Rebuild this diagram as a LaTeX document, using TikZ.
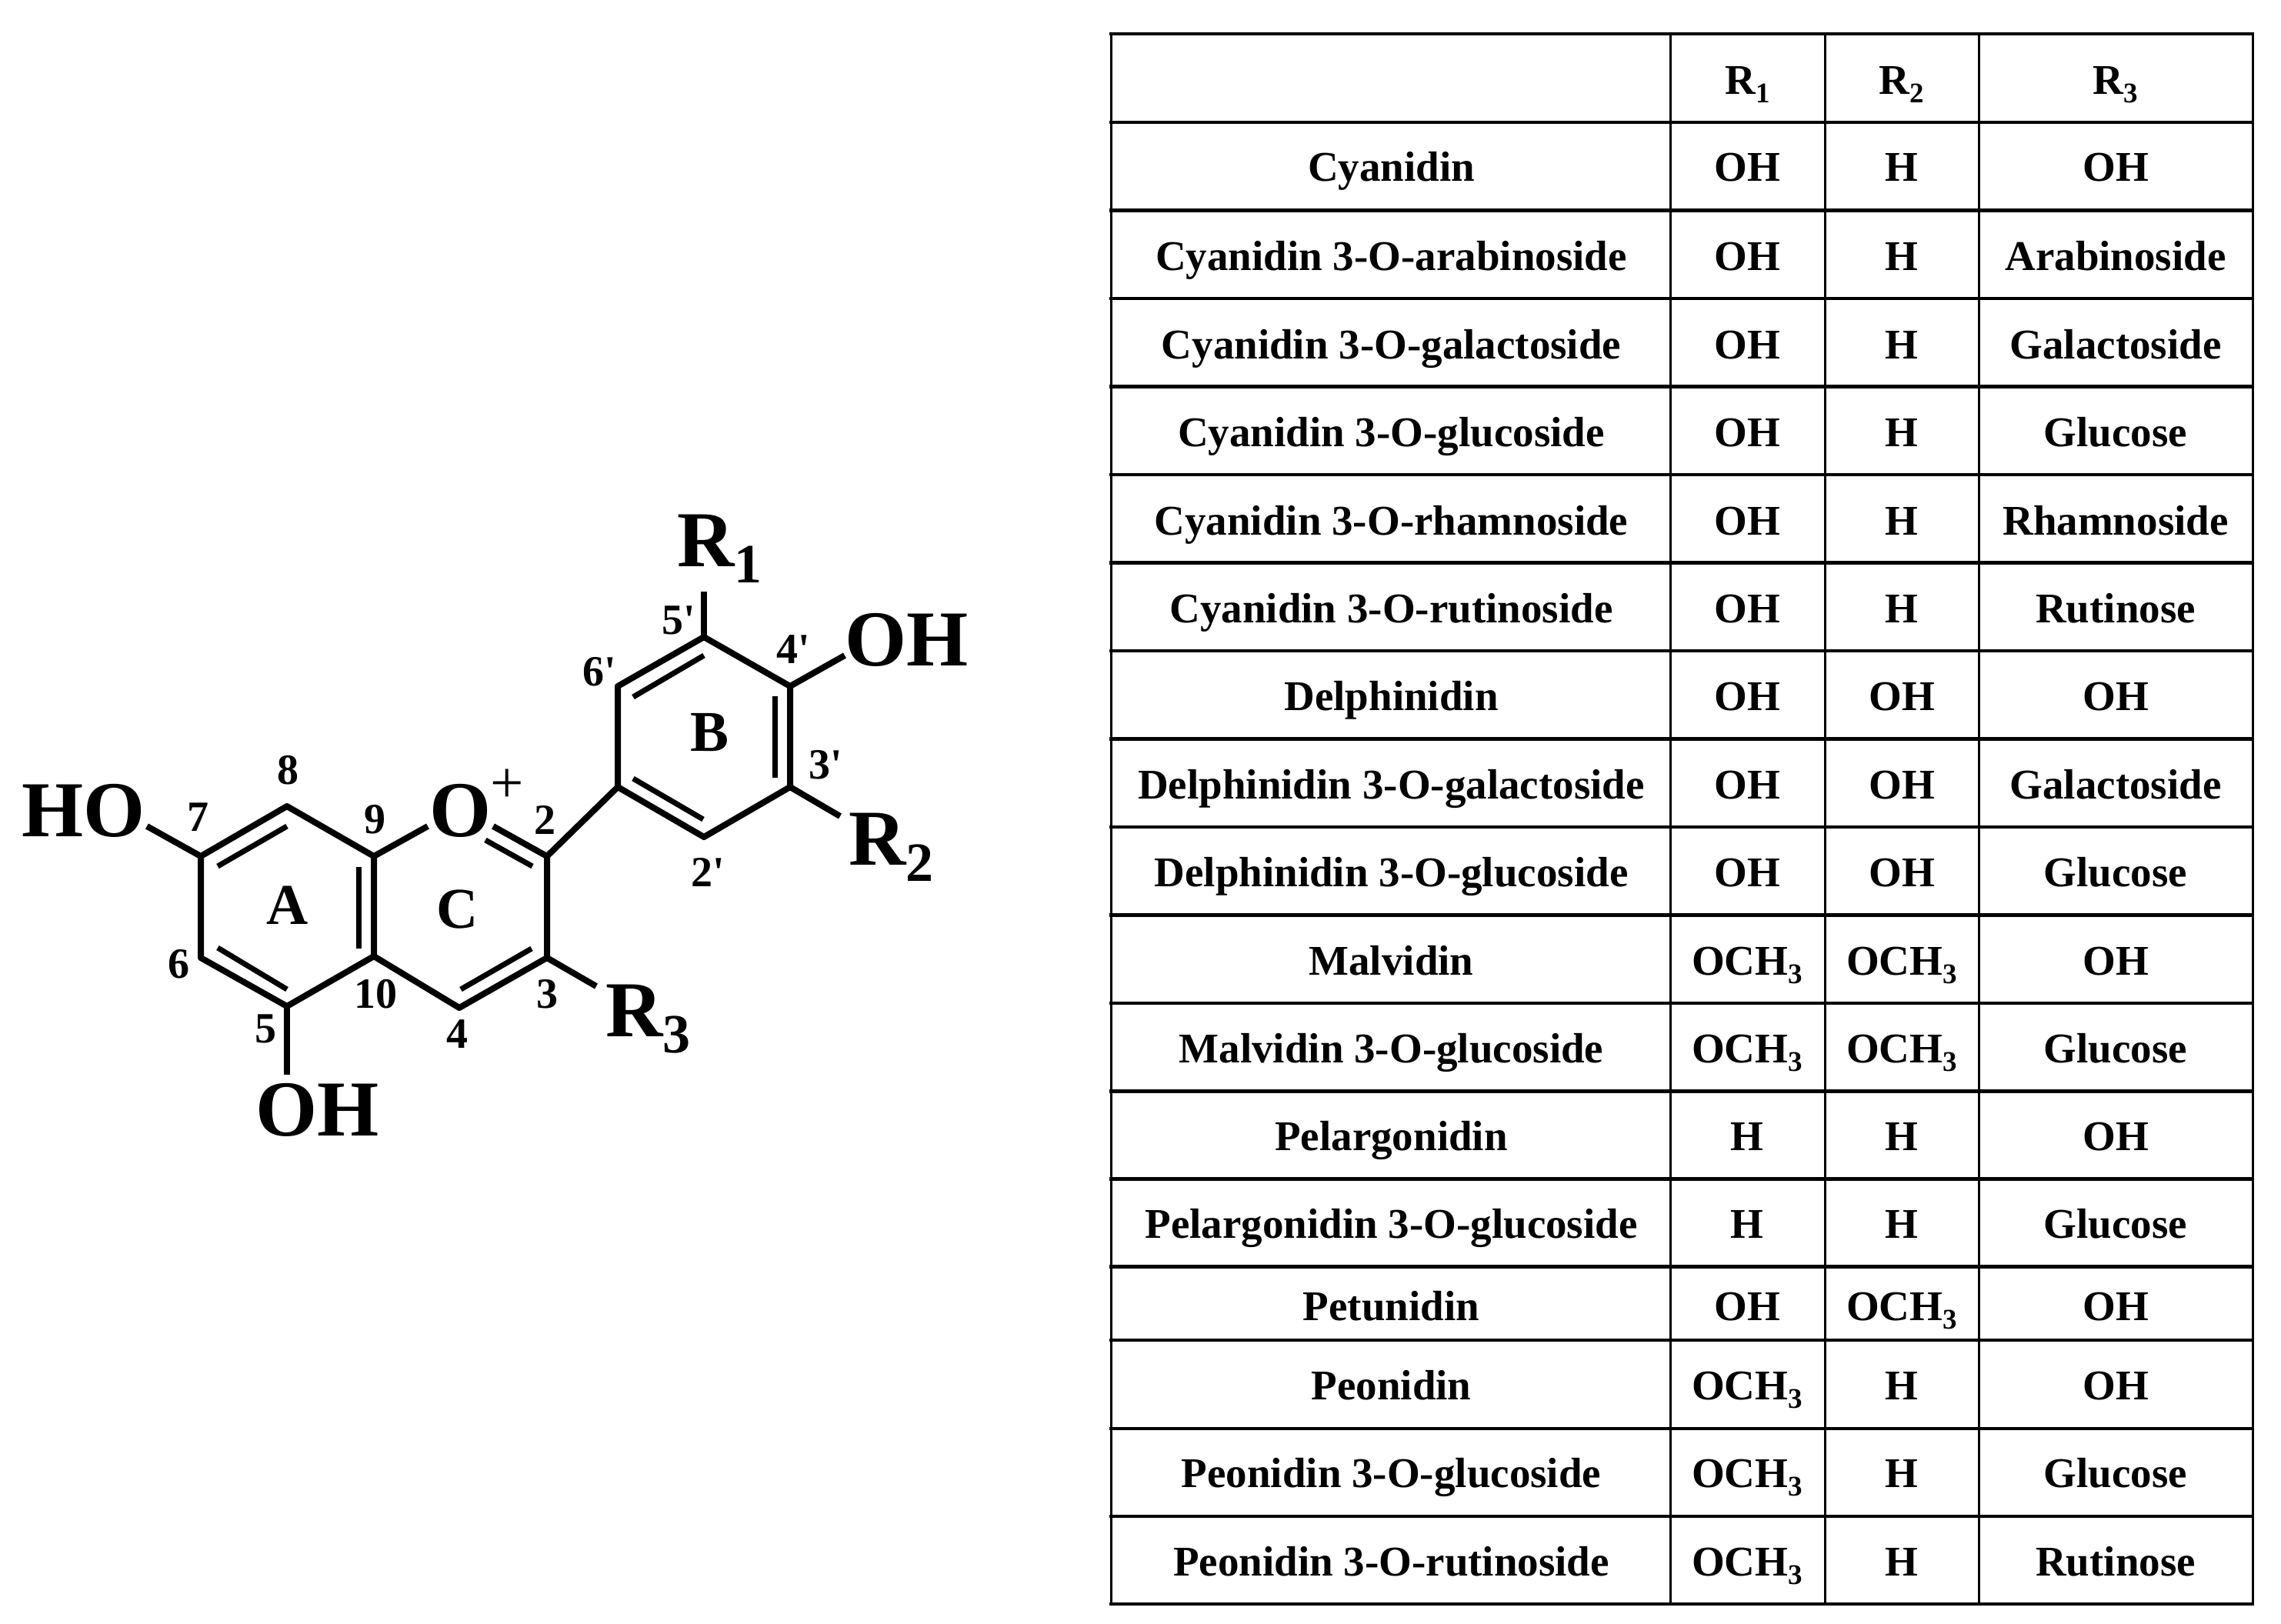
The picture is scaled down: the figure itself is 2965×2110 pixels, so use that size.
\documentclass[tikz,border=0pt]{standalone}
\usepackage{fontspec}
\setmainfont{Liberation Serif}
\newfontfamily\numf{Liberation Serif}
\newcommand{\sizeT}{\fontsize{55}{60}\selectfont\bfseries}
\newcommand{\sizeL}{\fontsize{103}{110}\selectfont\bfseries}
\newcommand{\sizeN}{\numf\fontsize{56}{60}\selectfont\bfseries}
\newcommand{\sizeR}{\fontsize{75}{80}\selectfont\bfseries}
\newcommand{\subT}[1]{\raisebox{-11pt}{\fontsize{37}{37}\selectfont\bfseries #1}}
\newcommand{\subL}[1]{\raisebox{-21pt}{\fontsize{72}{72}\selectfont\bfseries #1}}
\newcommand{\och}{OCH\subT{3}}
\tikzset{
 x=1pt,y=-1pt,
 bond/.style={line width=8pt,line join=round},
 big/.style={inner sep=0pt,font=\sizeL},
 num/.style={inner sep=0pt,font=\sizeN},
 ringl/.style={inner sep=0pt,font=\sizeR},
 cell/.style={inner sep=0pt,font=\sizeT},
 hrule/.style={line width=4.5pt},
 vrule/.style={line width=3pt},
}
\begin{document}
\begin{tikzpicture}
\useasboundingbox (0,0) rectangle (2965,2110);
\fill[white] (0,0) rectangle (2965,2110);
% atoms
\coordinate (c7) at (261,1113); \coordinate (c8) at (373,1048); \coordinate (c9) at (486,1113);
\coordinate (c10) at (486,1243); \coordinate (c5) at (373,1308); \coordinate (c6) at (261,1245);
\coordinate (c2) at (711,1113); \coordinate (c3) at (711,1245); \coordinate (c4) at (597,1310);
\coordinate (b1) at (803,1023); \coordinate (b2) at (915,1088); \coordinate (b3) at (1027,1023);
\coordinate (b4) at (1027,892); \coordinate (b5) at (915,828); \coordinate (b6) at (803,892);
\coordinate (er1) at (915,769); \coordinate (eoh) at (1098,852); \coordinate (er2) at (1092,1061);
\coordinate (er3) at (775,1282); \coordinate (e5oh) at (373,1397); \coordinate (eho) at (191,1074);
\coordinate (eo) at (556,1074); \coordinate (eo2) at (641,1074);
\coordinate (i1a) at (283,1126); \coordinate (i1b) at (373,1074);
\coordinate (i2a) at (466,1127); \coordinate (i2b) at (466,1233);
\coordinate (i3a) at (283,1232); \coordinate (i3b) at (373,1286);
\coordinate (i4a) at (691,1233); \coordinate (i4b) at (599,1286);
\coordinate (i5a) at (823,1012); \coordinate (i5b) at (914,1065);
\coordinate (i6a) at (1007,905); \coordinate (i6b) at (1007,1011);
\coordinate (i7a) at (823,906); \coordinate (i7b) at (915,852);
\coordinate (i8a) at (631,1092); \coordinate (i8b) at (692,1126);
% bonds
\draw[bond] (eo) -- (c9) -- (c8) -- (c7) -- (c6) -- (c5) -- (c10) -- (c9);
\draw[bond] (c10) -- (c4) -- (c3) -- (c2) -- (eo2);
\draw[bond] (c2) -- (b1) -- (b2) -- (b3) -- (b4) -- (b5) -- (b6) -- (b1);
\draw[bond] (c7) -- (eho); \draw[bond] (c5) -- (e5oh); \draw[bond] (c3) -- (er3);
\draw[bond] (b3) -- (er2); \draw[bond] (b4) -- (eoh); \draw[bond] (b5) -- (er1);
\foreach \n in {1,...,8} \draw[bond,line width=7pt] (i\n a) -- (i\n b);
% labels
\node[big,anchor=base west] (lho) at (28,1087) {HO};
\node[big,anchor=base west] (lo) at (558,1087) {O};
\node[inner sep=0pt,font=\fontsize{77}{77}\selectfont] (lplus) at (659,1022) {+};
\node[big,anchor=base west] (loh5) at (332,1476) {OH};
\node[big,anchor=base west] (lr1) at (880,736) {R\subL{1}};
\node[big,anchor=base west] (loh4) at (1098,865) {OH};
\node[big,anchor=base west] (lr2) at (1103,1124) {R\subL{2}};
\node[big,anchor=base west] (lr3) at (787,1347) {R\subL{3}};
\node[ringl] (ra) at (374,1177) {A};
\node[ringl] (rb) at (923,952) {B};
\node[ringl] (rc) at (595,1182) {C};
\foreach \nm/\t/\px/\py in {n8/8/374/1001, n7/7/257/1062, n9/9/487/1065, n2/2/708/1066, n6/6/232/1253, n10/10/488/1292, n5/5/345/1337, n4/4/594/1344, n3/3/711/1292, n2p/2'/920/1134, n3p/3'/1073/994, n4p/4'/1031/844, n5p/5'/882/806, n6p/6'/779/873}
  \node[num] (\nm) at (\px,\py) {\t};
% table
\def\Xa{1444}\def\Xb{2171}\def\Xc{2372}\def\Xd{2572}\def\Xe{2928}
\foreach \yy in {44,159,273.5,388,502.5,617,731.5,846,960.5,1075,1189.5,1304,1418.5,1532.5,1646.5,1742,1857,1971,2085}
  \draw[hrule] (\Xa-2,\yy) -- (\Xe+2,\yy);
\foreach \xx in {\Xa,\Xb,\Xc,\Xd,\Xe} \draw[vrule] (\xx,44) -- (\xx,2085);
\def\Ca{1808.5}\def\Cb{2271}\def\Cc{2472}\def\Cd{2750}
\node[cell,anchor=base] (h1) at (\Cb+1,122) {R\subT{1}};
\node[cell,anchor=base] (h2) at (\Cc,122) {R\subT{2}};
\node[cell,anchor=base] (h3) at (\Cd,122) {R\subT{3}};
\foreach \k/\yy/\a/\b/\c/\d in {
 1/235.5/Cyanidin/OH/H/OH,
 2/351/Cyanidin 3-O-arabinoside/OH/H/Arabinoside,
 3/466/Cyanidin 3-O-galactoside/OH/H/Galactoside,
 4/580.5/Cyanidin 3-O-glucoside/OH/H/Glucose,
 5/695/Cyanidin 3-O-rhamnoside/OH/H/Rhamnoside,
 6/809.5/Cyanidin 3-O-rutinoside/OH/H/Rutinose,
 7/923.5/Delphinidin/OH/OH/OH,
 8/1038/Delphinidin 3-O-galactoside/OH/OH/Galactoside,
 9/1152.5/Delphinidin 3-O-glucoside/OH/OH/Glucose,
 10/1267/Malvidin/\och/\och/OH,
 11/1381.5/Malvidin 3-O-glucoside/\och/\och/Glucose,
 12/1495.5/Pelargonidin/H/H/OH,
 13/1609.5/Pelargonidin 3-O-glucoside/H/H/Glucose,
 14/1716/Petunidin/OH/\och/OH,
 15/1819/Peonidin/\och/H/OH,
 16/1933/Peonidin 3-O-glucoside/\och/H/Glucose,
 17/2048/Peonidin 3-O-rutinoside/\och/H/Rutinose}{
  \node[cell,anchor=base] (a\k) at (\Ca,\yy) {\a};
  \node[cell,anchor=base] (b\k) at (\Cb,\yy) {\b};
  \node[cell,anchor=base] (c\k) at (\Cc,\yy) {\c};
  \node[cell,anchor=base] (d\k) at (\Cd,\yy) {\d};
}
\end{tikzpicture}
\end{document}
